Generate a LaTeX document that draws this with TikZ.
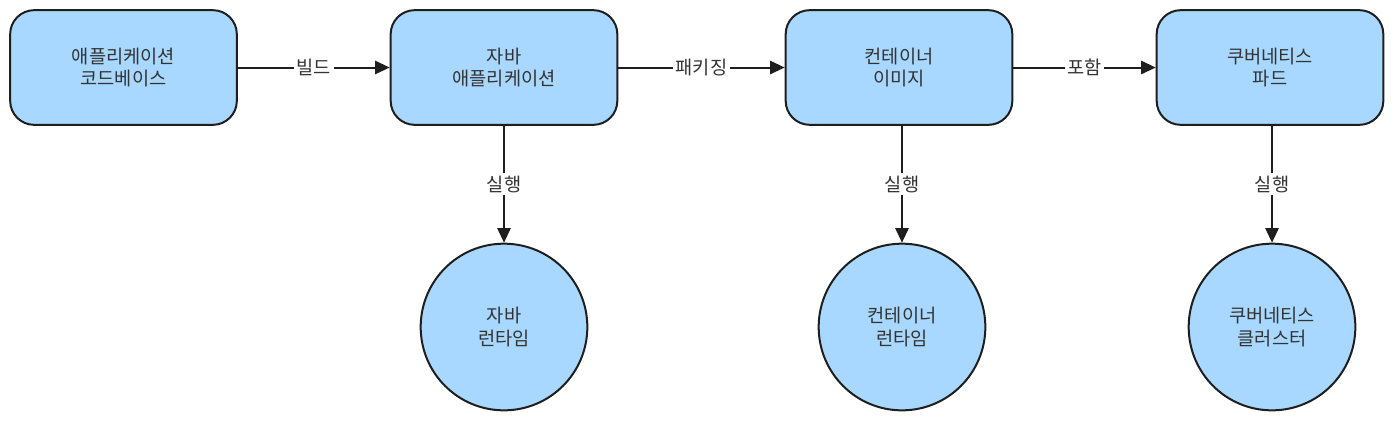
\documentclass[tikz,border=0pt]{standalone}
\usepackage{fontspec}
\setmainfont{Noto Sans CJK KR}
\usetikzlibrary{arrows.meta}
\definecolor{boxfill}{RGB}{168,216,255}
\definecolor{ink}{RGB}{30,30,30}
\definecolor{txt}{RGB}{51,51,51}
\begin{document}
\begin{tikzpicture}[x=0.75pt,y=-0.75pt,
box/.style={draw=ink,line width=1.5pt,fill=boxfill,rounded corners=18pt,minimum width=170pt,minimum height=86pt,align=center,text=txt,font=\fontsize{14}{17}\selectfont},
run/.style={draw=ink,line width=1.5pt,fill=boxfill,circle,minimum size=125pt,inner sep=0pt,align=center,text=txt,font=\fontsize{14}{17}\selectfont},
flow/.style={line width=1.5pt,draw=ink,-{Triangle[length=11pt,width=10pt]}},
lbl/.style={fill=white,inner sep=2pt,text=txt,font=\fontsize{14}{17}\selectfont}]
\useasboundingbox(0,0)rectangle(1394,422);
\node[box](code)at(123.5,67.5){애플리케이션\\코드베이스};
\node[box](app)at(504,67.5){자바\\애플리케이션};
\node[box](img)at(899,67.5){컨테이너\\이미지};
\node[box](pod)at(1270,67.5){쿠버네티스\\파드};
\node[run](jvm)at(504,327){자바\\런타임};
\node[run](crt)at(902,327){컨테이너\\런타임};
\node[run](k8s)at(1272,327){쿠버네티스\\클러스터};
\draw[flow](code)--node[lbl]{빌드}(app);
\draw[flow](app)--node[lbl]{패키징}(img);
\draw[flow](img)--node[lbl]{포함}(pod);
\draw[flow](jvm|-app.south)--node[lbl]{실행}(jvm);
\draw[flow](crt|-img.south)--node[lbl]{실행}(crt);
\draw[flow](k8s|-pod.south)--node[lbl]{실행}(k8s);
\end{tikzpicture}
\end{document}
